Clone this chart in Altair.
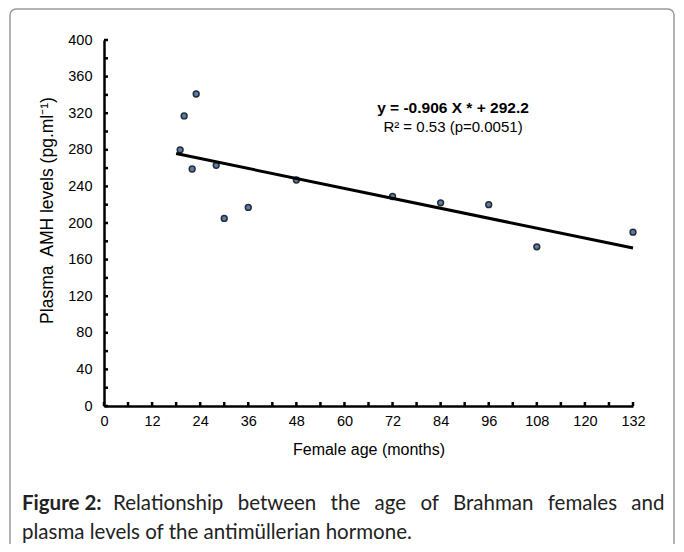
import altair as alt
import pandas as pd

# ---- data ----
ages = [19, 20, 23, 22, 28, 30, 36, 48, 72, 84, 96, 108, 132]
amh = [280, 317, 341, 259, 263, 205, 217, 247, 229, 222, 220, 174, 190]
slope = -0.906
intercept = 292.2
fit_x = [18, 132]
x_major = list(range(0, 133, 12))
x_minor = list(range(0, 133, 6))
y_major = list(range(0, 401, 40))
y_minor = list(range(0, 401, 20))
eq_text = "y = -0.906 X * + 292.2"
r2_text = "R\u00b2 = 0.53 (p=0.0051)"
cap_bold = "Figure 2:"
cap_words1 = ["Relationship", "between", "the", "age", "of", "Brahman", "females", "and"]
cap_line2 = "plasma levels of the antim\u00fcllerian hormone."

W, H = 529, 366
FONT = "Liberation Sans"

pts = pd.DataFrame({"age": ages, "amh": amh})
fit = pd.DataFrame({"age": fit_x, "amh": [slope * v + intercept for v in fit_x]})

xs = alt.Scale(domain=[0, 132], nice=False, zero=False)
ys = alt.Scale(domain=[0, 400], nice=False, zero=False)
xax = alt.Axis(values=x_major, title="Female age (months)", titlePadding=14,
               labelOverlap=False, labelFlush=False, labelPadding=8, titleFontSize=16)
yax = alt.Axis(values=y_major, title="Plasma\u00a0 AMH levels (pg.ml\u207b\u00b9)",
               titlePadding=11, labelOverlap=False, labelFlush=False, labelPadding=12,
               titleFontSize=17.5, titleY=170)

one = alt.Data(values=[{"k": 1}])

frame = alt.Chart(one).mark_rect(
    fill=None, stroke="#9a9a9a", strokeWidth=1.5, cornerRadius=6
).encode(
    x=alt.value(-94), x2=alt.value(570), y=alt.value(-31), y2=alt.value(530)
)

points = alt.Chart(pts).mark_point(
    filled=True, fill="#4f7fb8", stroke="#2b2b2b", strokeWidth=1.5, size=34, opacity=1
).encode(
    x=alt.X("age:Q", scale=xs, axis=xax),
    y=alt.Y("amh:Q", scale=ys, axis=yax),
)

line = alt.Chart(fit).mark_line(color="black", strokeWidth=3).encode(
    x=alt.X("age:Q", scale=xs, axis=xax), y=alt.Y("amh:Q", scale=ys, axis=yax)
)

xt = alt.Chart(pd.DataFrame({"t": x_minor})).mark_rule(color="black", strokeWidth=2.5).encode(
    x=alt.X("t:Q", scale=xs, axis=xax), y=alt.value(H), y2=alt.value(H - 4)
)
yt = alt.Chart(pd.DataFrame({"t": y_minor})).mark_rule(color="black", strokeWidth=2.5).encode(
    y=alt.Y("t:Q", scale=ys, axis=yax), x=alt.value(0), x2=alt.value(4)
)

eq = alt.Chart(one).mark_text(
    text=eq_text, font=FONT, fontSize=15.5, fontWeight="bold", color="black", align="center", baseline="middle"
).encode(x=alt.value(349), y=alt.value(68))
r2 = alt.Chart(one).mark_text(
    text=r2_text, font=FONT, fontSize=15, color="black", align="center", baseline="middle"
).encode(x=alt.value(349), y=alt.value(87))

CF = "Lato"
CS = 20.5
gap = "\u00a0\u2009\u200a "
c0 = alt.Chart(one).mark_text(
    text=cap_bold, font=CF, fontSize=CS, fontWeight="bold", color="#222", align="left", baseline="middle"
).encode(x=alt.value(-82), y=alt.value(464))
c1 = alt.Chart(one).mark_text(
    text=gap.join(cap_words1), font=CF, fontSize=CS, color="#222", align="left", baseline="middle"
).encode(x=alt.value(9), y=alt.value(464))
c2 = alt.Chart(one).mark_text(
    text=cap_line2, font=CF, fontSize=CS, color="#222", align="left", baseline="middle"
).encode(x=alt.value(-82), y=alt.value(493))

chart = alt.layer(points, frame, xt, yt, line, eq, r2, c0, c1, c2).properties(
    width=W, height=H, autosize="none",
    padding={"left": 96, "top": 32, "right": 43, "bottom": 138},
).configure_view(strokeWidth=0).configure_axis(
    grid=False, ticks=False, domainColor="black", domainWidth=2.5, labelOverlap=False,
    labelFont=FONT, labelFontSize=14.5, labelColor="black",
    titleFont=FONT, titleFontWeight="normal", titleColor="black",
)

chart.save("out.html", embed_options={"renderer": "svg", "actions": False})
